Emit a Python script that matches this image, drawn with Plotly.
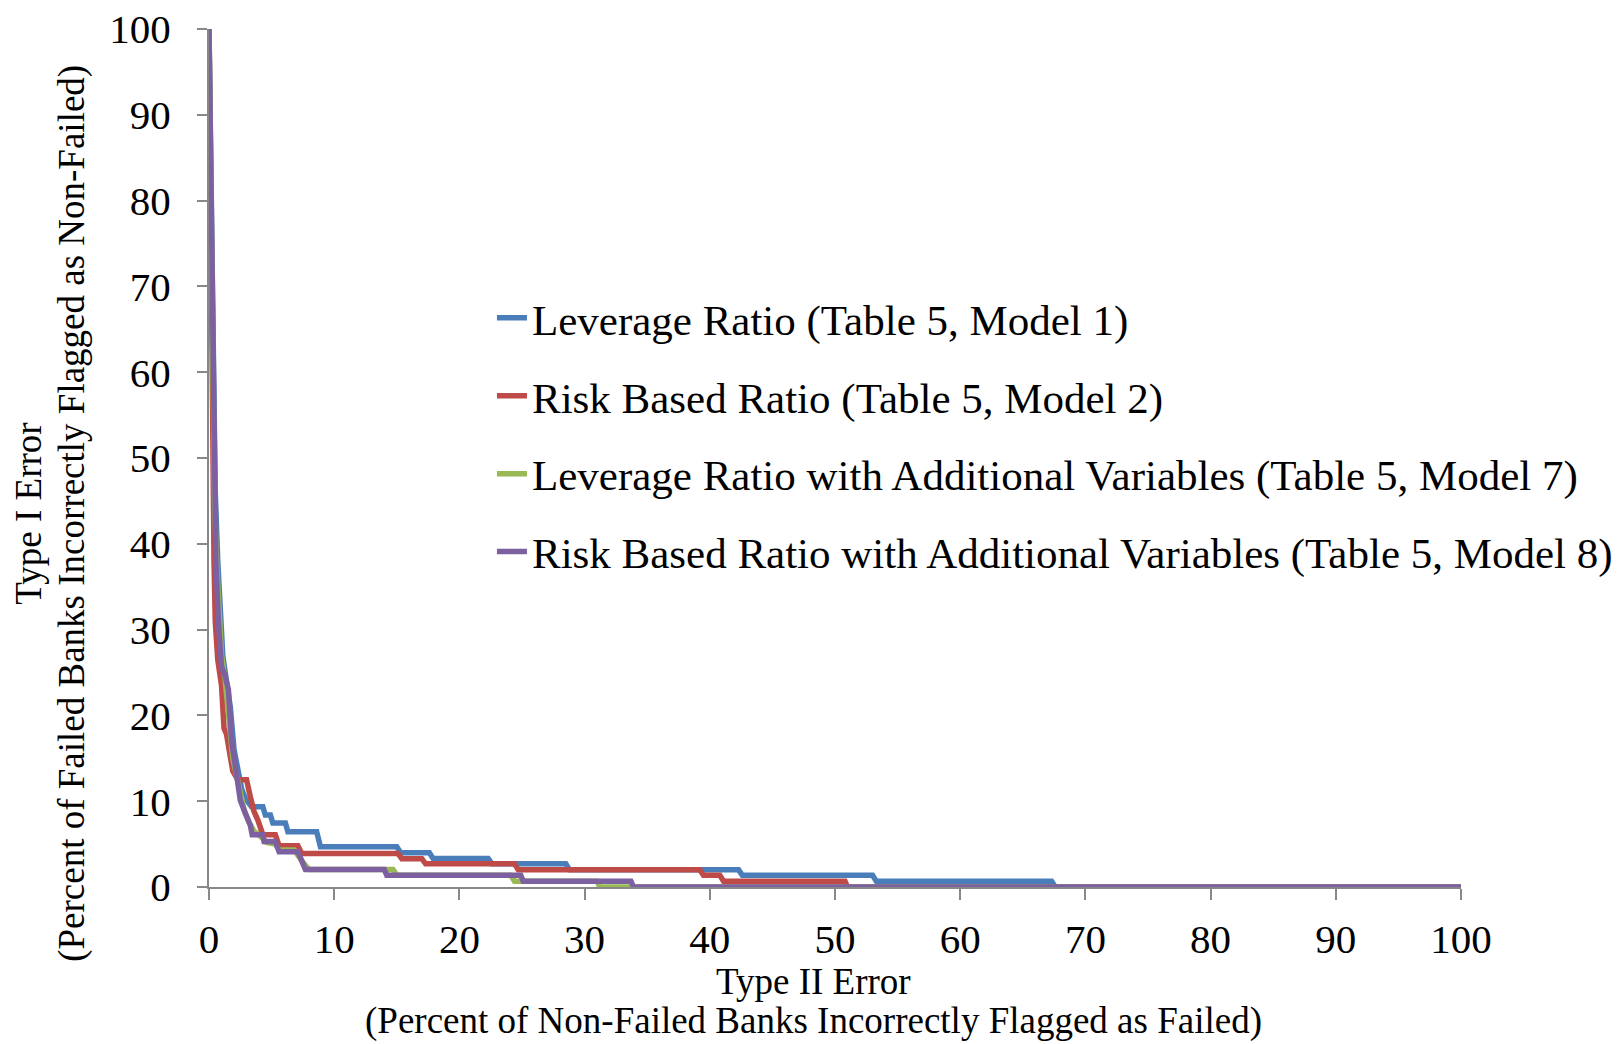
import plotly.graph_objects as go

# Type II error (x) and Type I error (y) for each model
lev_x = [0, 0.08, 0.2, 0.35, 0.5, 0.7, 0.9, 1.1, 1.4, 1.7, 2.0, 2.3, 2.6, 2.9, 3.2, 3.4, 4.3, 4.5, 4.9, 5.1, 6.1, 6.3, 8.6, 8.9,
         15.0, 15.3, 17.6, 17.9, 22.3, 22.6, 28.5, 28.8, 42.3, 42.6, 53.0, 53.3, 67.3, 67.6, 100]
lev_y = [100, 90, 74, 58, 46, 38, 31, 27, 24, 21, 16, 13.3, 11.5, 10.3, 9.6, 9.36, 9.36, 8.4, 8.4, 7.45, 7.45, 6.45, 6.45, 4.7,
         4.7, 4.0, 4.0, 3.33, 3.33, 2.7, 2.7, 2.0, 2.0, 1.36, 1.36, 0.68, 0.68, 0, 0]

rbr_x = [0, 0.05, 0.12, 0.2, 0.3, 0.4, 0.5, 0.7, 1.0, 1.2, 1.4, 1.6, 1.9, 2.3, 3.0, 3.3, 3.6, 3.9, 4.3, 5.3, 5.6, 7.1, 7.4,
         15.1, 15.4, 17.0, 17.3, 24.4, 24.7, 39.2, 39.5, 40.8, 41.1, 50.8, 51.0, 100]
rbr_y = [100, 90, 75, 60, 48, 38, 31, 26.5, 23.5, 18.5, 17.8, 16, 13.5, 12.5, 12.5, 10.5, 8.8, 7.8, 6.1, 6.1, 4.8, 4.8, 3.9,
         3.9, 3.3, 3.3, 2.7, 2.7, 2.0, 2.0, 1.36, 1.36, 0.68, 0.68, 0, 0]

levx_x = [0, 0.08, 0.2, 0.3, 0.45, 0.6, 0.8, 1.0, 1.3, 1.6, 1.9, 2.2, 2.5, 2.8, 3.2, 3.6, 4.2, 4.6, 5.3, 5.6, 6.8, 7.2, 7.6, 8.0,
          14.7, 15.0, 24.1, 24.4, 31.0, 31.2, 100]
levx_y = [100, 90, 72, 58, 45, 38, 32, 27, 24, 20, 15, 13, 11, 9, 7.5, 6.5, 5.8, 5.2, 5.0, 4.3, 4.3, 3.4, 2.7, 2.04,
          2.04, 1.36, 1.36, 0.68, 0.68, 0, 0]

rbrx_x = [0, 0.08, 0.18, 0.28, 0.4, 0.55, 0.75, 1.0, 1.3, 1.55, 1.8, 2.2, 2.5, 2.9, 3.3, 3.45, 4.3, 4.4, 5.3, 5.6, 7.1, 7.7,
          14.0, 14.2, 24.9, 25.1, 33.7, 33.9, 100]
rbrx_y = [100, 90, 75, 60, 46, 38, 31, 25.7, 24.5, 23, 17.1, 13.3, 10.1, 8.6, 7.2, 6.1, 6.1, 5.3, 5.3, 4.1, 4.1, 2.04,
          2.04, 1.36, 1.36, 0.68, 0.68, 0, 0]

names = ["Leverage Ratio (Table 5, Model 1)",
         "Risk Based Ratio (Table 5, Model 2)",
         "Leverage Ratio with Additional Variables (Table 5, Model 7)",
         "Risk Based Ratio with Additional Variables (Table 5, Model 8)"]
colors = ["#4A7EBB", "#BE4B48", "#98B954", "#7D60A0"]
xs = [lev_x, rbr_x, levx_x, rbrx_x]
ys = [lev_y, rbr_y, levx_y, rbrx_y]

tick_vals = [0, 10, 20, 30, 40, 50, 60, 70, 80, 90, 100]

FONT = "Liberation Serif, Times New Roman, serif"

fig = go.Figure()
for i in range(4):
    fig.add_trace(go.Scatter(x=xs[i], y=ys[i], mode="lines", name=names[i],
                             legendgroup=f"g{i}",
                             line=dict(color=colors[i], width=5.5, shape="linear"),
                             cliponaxis=False))

fig.update_layout(
    width=1621, height=1044,
    margin=dict(l=209, r=160, t=29, b=157, autoexpand=False),
    paper_bgcolor="white", plot_bgcolor="white",
    font=dict(family=FONT, color="black", size=41),
    showlegend=True,
    legend=dict(x=0.226, y=0.7035, xanchor="left", yanchor="top",
                font=dict(family=FONT, size=43, color="black"),
                bgcolor="rgba(0,0,0,0)", tracegroupgap=19,
                itemwidth=30),
    xaxis=dict(range=[0, 100], tickvals=tick_vals, showline=True, linecolor="#888888", linewidth=2,
               ticks="outside", ticklen=11, tickwidth=2, tickcolor="#888888",
               showgrid=False, zeroline=False, tickfont=dict(size=41, family=FONT),
               ticklabelstandoff=4, ticklabeloverflow="allow"),
    yaxis=dict(range=[0, 100], tickvals=tick_vals, showline=True, linecolor="#888888", linewidth=2,
               ticks="outside", ticklen=10, tickwidth=2, tickcolor="#888888",
               showgrid=False, zeroline=False, tickfont=dict(size=41, family=FONT),
               ticklabelstandoff=18, ticklabeloverflow="allow"),
    annotations=[
        dict(text="Type II Error", xref="paper", yref="paper", x=0.483, y=-0.1107,
             xanchor="center", yanchor="middle", showarrow=False, font=dict(size=37, family=FONT)),
        dict(text="(Percent of Non-Failed Banks Incorrectly Flagged as Failed)", xref="paper", yref="paper",
             x=0.483, y=-0.156, xanchor="center", yanchor="middle", showarrow=False,
             font=dict(size=37, family=FONT)),
        dict(text="Type I Error", xref="paper", yref="paper", x=-0.1438, y=0.435, textangle=-90,
             xanchor="center", yanchor="middle", showarrow=False, font=dict(size=37, family=FONT)),
        dict(text="(Percent of Failed Banks Incorrectly Flagged as Non-Failed)", xref="paper", yref="paper",
             x=-0.1094, y=0.435, textangle=-90, xanchor="center", yanchor="middle", showarrow=False,
             font=dict(size=37, family=FONT)),
    ],
)

fig.write_html("out.html", config={"displayModeBar": False},
               post_script="document.body.style.margin='0';document.body.style.overflow='hidden';")
